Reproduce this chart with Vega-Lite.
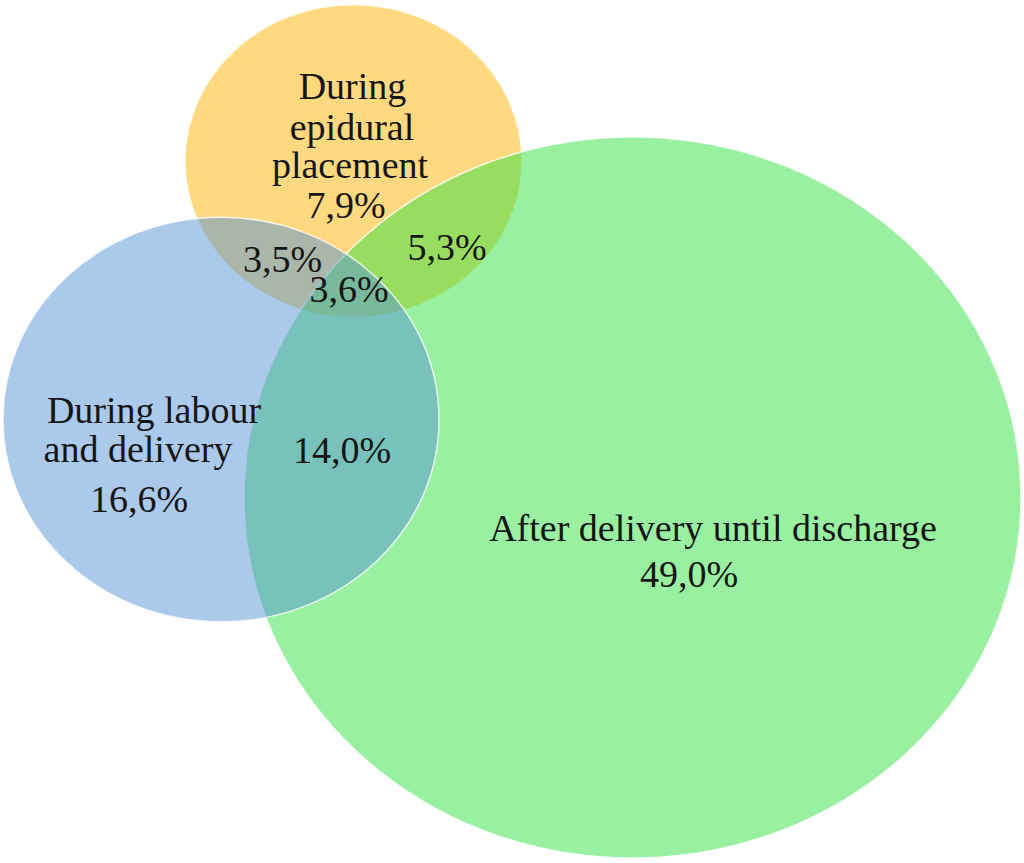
{
  "$schema": "https://vega.github.io/schema/vega-lite/v6.json",
  "width": 1024,
  "height": 863,
  "padding": 0,
  "autosize": {"type": "none"},
  "background": "white",
  "config": {"view": {"stroke": null}},
  "datasets": {
    "sets": [
      {"set": "During epidural placement", "cx": 353.5, "cy": 161, "diameter": 337},
      {"set": "After delivery until discharge", "cx": 632.5, "cy": 497.5, "diameter": 777},
      {"set": "During labour and delivery", "cx": 221, "cy": 419.5, "diameter": 436}
    ],
    "labels": [
      {"label": "During", "x": 352.5, "y": 99},
      {"label": "epidural", "x": 352, "y": 140},
      {"label": "placement", "x": 350, "y": 178},
      {"label": "7,9%", "x": 346, "y": 218},
      {"label": "5,3%", "x": 447, "y": 260},
      {"label": "3,5%", "x": 282.5, "y": 272},
      {"label": "3,6%", "x": 349, "y": 302},
      {"label": "During labour", "x": 154, "y": 423},
      {"label": "and delivery", "x": 138, "y": 462},
      {"label": "16,6%", "x": 139, "y": 512},
      {"label": "14,0%", "x": 342, "y": 463},
      {"label": "After delivery until discharge", "x": 713, "y": 541},
      {"label": "49,0%", "x": 689, "y": 587}
    ]
  },
  "encoding": {
    "x": {"type": "quantitative", "scale": {"domain": [0, 1024], "nice": false, "zero": false}, "axis": null},
    "y": {"type": "quantitative", "scale": {"domain": [0, 863], "nice": false, "zero": false, "reverse": true}, "axis": null}
  },
  "layer": [
    {
      "data": {"name": "sets"},
      "mark": {
        "type": "point",
        "filled": true,
        "opacity": 1,
        "shape": "M-1,0C-1,-0.5125 -0.5523,-0.928 0,-0.928C0.5523,-0.928 1,-0.5125 1,0C1,0.5125 0.5523,0.928 0,0.928C-0.5523,0.928 -1,0.5125 -1,0Z",
        "fillOpacity": 0.5,
        "stroke": "white",
        "strokeWidth": 1.5,
        "strokeOpacity": 0.8
      },
      "encoding": {
        "x": {"field": "cx"},
        "y": {"field": "cy"},
        "size": {
          "field": "diameter",
          "type": "quantitative",
          "scale": {"type": "pow", "exponent": 2, "domain": [0, 1000], "range": [0, 1000000]},
          "legend": null
        },
        "fill": {
          "field": "set",
          "type": "nominal",
          "scale": {
            "domain": ["During epidural placement", "After delivery until discharge", "During labour and delivery"],
            "range": ["#FFB300", "#31E141", "#5793D5"]
          },
          "legend": null
        }
      }
    },
    {
      "data": {"name": "labels"},
      "mark": {
        "type": "text",
        "font": "Liberation Serif",
        "fontSize": 38,
        "align": "center",
        "baseline": "alphabetic",
        "color": "#151515"
      },
      "encoding": {
        "x": {"field": "x"},
        "y": {"field": "y"},
        "text": {"field": "label", "type": "nominal"}
      }
    }
  ]
}
